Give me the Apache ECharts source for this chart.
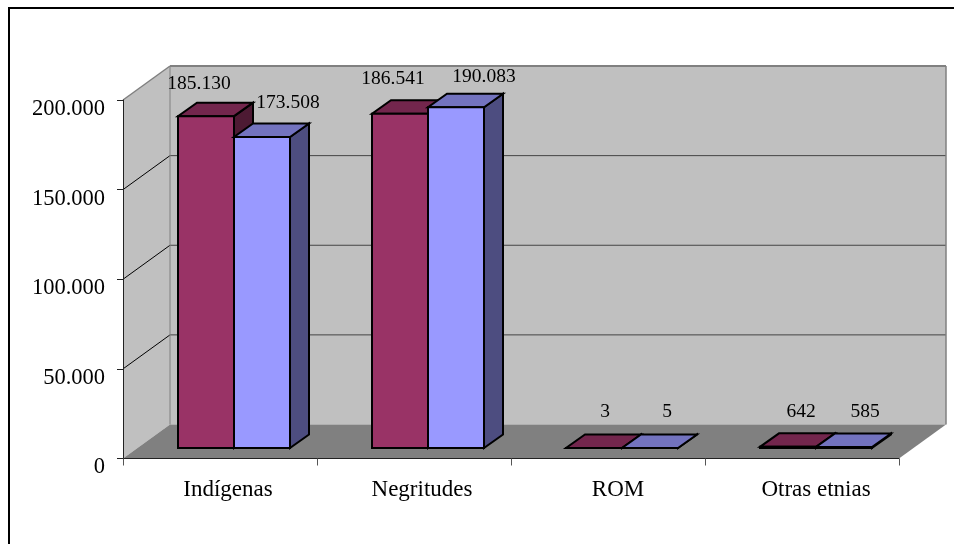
<!DOCTYPE html>
<html><head><meta charset="utf-8">
<style>html,body{margin:0;padding:0;background:#fff}#c{width:954px;height:544px}</style>
<script src="https://cdn.jsdelivr.net/npm/echarts@6/dist/echarts.min.js"></script>
</head><body><div id="c"></div>
<script>
var categories = ['Indígenas', 'Negritudes', 'ROM', 'Otras etnias'];
var seriesA = [185130, 186541, 3, 642];
var seriesB = [173508, 190083, 5, 585];
var yTicks = [0, 50000, 100000, 150000, 200000];

// label nudges relative to each bar's front-top centre (hand-placed in the source chart)
var nudgeA = [[-7, -32.5], [-7, -34.5], [11, -36], [13, -35]];
var nudgeB = [[26, -34.5], [28, -30.5], [17, -36], [21, -35]];

var DEPTH = [47, -34];           // room depth
var BAR_OFF = [14, -10.5];       // bar front plane offset into room
var BAR_DEPTH = [19, -13.5];     // bar depth
var BAR_W = 56;
var FONT = '"Liberation Serif"';
function fmt(v) { return String(v).replace(/\B(?=(\d{3})+(?!\d))/g, '.'); }

function poly(pts, fill, stroke, lw) {
  return { type: 'polygon', shape: { points: pts }, style: { fill: fill, stroke: stroke || null, lineWidth: lw || 0, lineJoin: 'miter' } };
}
function line(a, b, stroke, lw) {
  return { type: 'line', shape: { x1: a[0], y1: a[1], x2: b[0], y2: b[1] }, style: { stroke: stroke, lineWidth: lw } };
}

function renderRoom(params, api) {
  var x0 = params.coordSys.x, w = params.coordSys.width;
  var p0 = api.coord([0, 0]), top = api.coord([0, 200000]);
  var yb = p0[1], yt = top[1], dx = DEPTH[0], dy = DEPTH[1], x1 = x0 + w;
  var ch = [
    poly([[x0 + dx, yt + dy], [x1 + dx, yt + dy], [x1 + dx, yb + dy], [x0 + dx, yb + dy]], '#c0c0c0'),
    poly([[x0, yt], [x0 + dx, yt + dy], [x0 + dx, yb + dy], [x0, yb]], '#c0c0c0'),
    poly([[x0, yb], [x1, yb], [x1 + dx, yb + dy], [x0 + dx, yb + dy]], '#808080')
  ];
  yTicks.forEach(function (t) {
    if (t === 0 || t === 200000) return;
    var y = api.coord([0, t])[1];
    ch.push(line([x0, y], [x0 + dx, y + dy], '#000', 1));
    ch.push(line([x0 + dx, y + dy], [x1 + dx, y + dy], '#444', 1));
  });
  ch.push(line([x0, yt], [x0 + dx, yt + dy], '#808080', 1.5));
  ch.push(line([x0 + dx, yt + dy], [x1 + dx, yt + dy], '#808080', 2));
  ch.push(line([x1 + dx, yt + dy], [x1 + dx, yb + dy], '#808080', 1.5));
  ch.push(line([x0 + dx, yt + dy], [x0 + dx, yb + dy], '#808080', 1));
  return { type: 'group', children: ch };
}

function makeBar(side, front, topc, sidec, nudges) {
  return function (params, api) {
    var cat = api.value(0), val = api.value(1);
    var base = api.coord([cat, 0]), t = api.coord([cat, val]);
    var cx = base[0] + BAR_OFF[0];
    var xl = side < 0 ? cx - BAR_W : cx, xr = xl + BAR_W;
    var yb = base[1] + BAR_OFF[1], yt = t[1] + BAR_OFF[1];
    var dx = BAR_DEPTH[0], dy = BAR_DEPTH[1];
    var S = '#000', L = 2;
    var n = nudges[params.dataIndex];
    return { type: 'group', children: [
      poly([[xr, yb], [xr + dx, yb + dy], [xr + dx, yt + dy], [xr, yt]], sidec, S, L),
      poly([[xl, yt], [xr, yt], [xr + dx, yt + dy], [xl + dx, yt + dy]], topc, S, L),
      poly([[xl, yb], [xr, yb], [xr, yt], [xl, yt]], front, S, L),
      { type: 'text', z2: 50, style: { x: (xl + xr) / 2 + n[0], y: t[1] + BAR_OFF[1] + n[1], text: fmt(val), align: 'center', verticalAlign: 'middle', font: '19.5px ' + FONT, fill: '#000' } }
    ] };
  };
}
function pairs(a) { return a.map(function (v, i) { return [i, v]; }); }

var chart = echarts.init(document.getElementById('c'), null, { renderer: 'canvas' });
chart.setOption({
  animation: false,
  backgroundColor: '#fff',
  graphic: [{ type: 'polyline', z: -10, shape: { points: [[9, 544], [9, 8], [954, 8]] }, style: { fill: 'none', stroke: '#000', lineWidth: 2 } }],
  grid: { left: 123, top: 100, width: 776, height: 358.5, containLabel: false },
  xAxis: {
    type: 'category', data: categories, z: 20,
    axisLine: { show: true, onZero: false, lineStyle: { color: '#222', width: 1 } },
    axisTick: { show: true, length: 7, interval: 0, alignWithLabel: false, lineStyle: { color: '#555' } },
    axisLabel: { color: '#000', fontFamily: FONT, fontSize: 23, margin: 20, interval: 0, hideOverlap: false,
      formatter: function (v, i) { return '{l' + i + '|' + v + '}'; },
      rich: {
        l0: { padding: [0, 0, 0, 16], fontFamily: FONT, fontSize: 23 },
        l1: { padding: [0, 0, 0, 16], fontFamily: FONT, fontSize: 23 },
        l2: { padding: [0, 0, 0, 20], fontFamily: FONT, fontSize: 23 },
        l3: { padding: [0, 0, 0, 28], fontFamily: FONT, fontSize: 23 }
      } },
    splitLine: { show: false }
  },
  yAxis: {
    type: 'value', min: 0, max: 200000, interval: 50000, z: 20,
    axisLine: { show: true, lineStyle: { color: '#222', width: 1 } },
    axisTick: { show: true, length: 6, lineStyle: { color: '#222' } },
    axisLabel: { color: '#000', fontFamily: FONT, fontSize: 22.5, margin: 18, verticalAlign: 'top', lineHeight: 18, formatter: fmt },
    splitLine: { show: false }
  },
  series: [
    { type: 'custom', z: 1, clip: false, silent: true, renderItem: renderRoom, encode: { x: 0, y: 1 }, data: [[0, 0]] },
    { type: 'custom', z: 3, clip: false, silent: true, renderItem: makeBar(-1, '#993366', '#73264d', '#4d1a33', nudgeA), encode: { x: 0, y: 1 }, data: pairs(seriesA) },
    { type: 'custom', z: 4, clip: false, silent: true, renderItem: makeBar(1, '#9999ff', '#7373bf', '#4d4d80', nudgeB), encode: { x: 0, y: 1 }, data: pairs(seriesB) }
  ]
});
</script></body></html>
